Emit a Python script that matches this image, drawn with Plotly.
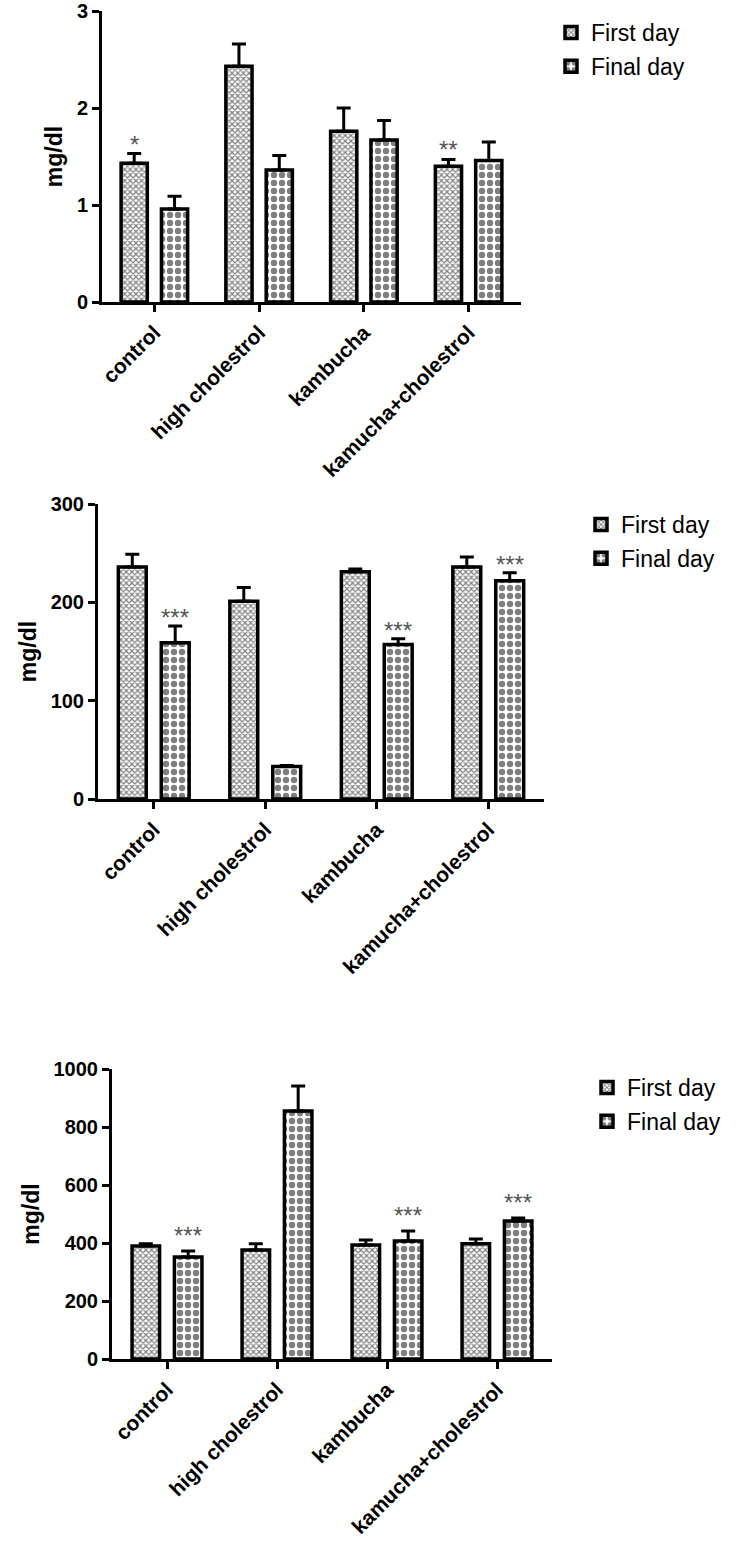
import plotly.graph_objects as go

groups = ["control", "high cholestrol", "kambucha", "kamucha+cholestrol"]

# top panel
p1_first = [1.43, 2.43, 1.76, 1.40]
p1_first_err = [0.10, 0.23, 0.24, 0.07]
p1_final = [0.96, 1.36, 1.67, 1.46]
p1_final_err = [0.13, 0.15, 0.20, 0.19]
p1_stars_first = ["*", "", "", "**"]
p1_stars_final = ["", "", "", ""]
p1_ticks = [0, 1, 2, 3]

# middle panel
p2_first = [236, 201, 231, 236]
p2_first_err = [13, 14, 3, 10]
p2_final = [159, 33, 157, 222]
p2_final_err = [17, 1, 6, 8]
p2_stars_first = ["", "", "", ""]
p2_stars_final = ["***", "", "***", "***"]
p2_ticks = [0, 100, 200, 300]

# bottom panel
p3_first = [390, 376, 393, 397]
p3_first_err = [7, 21, 17, 17]
p3_final = [352, 855, 407, 476]
p3_final_err = [20, 86, 34, 10]
p3_stars_first = ["", "", "", ""]
p3_stars_final = ["***", "", "***", "***"]
p3_ticks = [0, 200, 400, 600, 800, 1000]

FONT = "Arial, Liberation Sans, sans-serif"
W, H = 740, 1545
BARGAP = 0.23


def fx(px):
    return px / W


def fy(py):
    return 1 - py / H


first_pat = dict(shape="x", size=4, solidity=0.5, fgcolor="black", bgcolor="white")
final_pat = dict(shape=".", size=8, solidity=0.5, fgcolor="black", bgcolor="white")

panels = [
    # values, axes suffix, x px range, y px range (bottom, top), y max, legend pos, star shift
    (p1_first, p1_first_err, p1_final, p1_final_err, p1_stars_first, p1_stars_final,
     p1_ticks, "", (102, 521), (302, 11), 3, (551, 11), -6),
    (p2_first, p2_first_err, p2_final, p2_final_err, p2_stars_first, p2_stars_final,
     p2_ticks, "2", (98, 544), (799, 504), 300, (581, 503), -7),
    (p3_first, p3_first_err, p3_final, p3_final_err, p3_stars_first, p3_stars_final,
     p3_ticks, "3", (112, 552), (1359, 1069), 1000, (587, 1066), 0),
]

fig = go.Figure()
annotations = []

for (first, first_err, final, final_err, st_first, st_final,
     ticks, n, xpx, ypx, ymax, legpos, starshift) in panels:
    leg = "legend" + n
    xa = "x" + n
    ya = "y" + n
    for name, vals, errs, pat, grp in [("First day", first, first_err, first_pat, "a"),
                                       ("Final day", final, final_err, final_pat, "b")]:
        fig.add_trace(go.Bar(
            x=groups, y=vals, name=name, xaxis=xa, yaxis=ya, legend=leg,
            legendgroup=grp + n,
            marker=dict(color="white", pattern=pat, line=dict(color="black", width=3.5)),
            error_y=dict(type="data", array=errs, arrayminus=[0] * len(errs),
                         symmetric=False, color="black", thickness=3, width=7),
        ))
    off = (1 - BARGAP) / 4
    for stars, vals, errs, dx in [(st_first, first, first_err, -off),
                                  (st_final, final, final_err, off)]:
        for i, s in enumerate(stars):
            if s:
                annotations.append(dict(
                    x=i + dx, y=vals[i] + errs[i], xref=xa, yref=ya, text=s,
                    showarrow=False, yanchor="bottom", yshift=starshift,
                    font=dict(family=FONT, size=24, color="#555")))

    axis_x = dict(
        domain=[fx(xpx[0]), fx(xpx[1])], anchor=ya, type="category",
        range=[-0.5, 3.5], showline=True, linewidth=3, linecolor="black",
        ticks="outside", ticklen=7, tickwidth=2.5, tickcolor="black",
        tickangle=-45, showgrid=False, zeroline=False, automargin=False,
        ticklabeloverflow="allow",
        tickfont=dict(family=FONT, size=21, color="black", weight="bold"),
    )
    axis_y = dict(
        domain=[fy(ypx[0]), fy(ypx[1])], anchor=xa,
        range=[0, ymax], tickvals=ticks, showline=True, linewidth=3,
        linecolor="black", ticks="outside", ticklen=7, tickwidth=2.5,
        tickcolor="black", showgrid=False, zeroline=False, automargin=False,
        ticklabeloverflow="allow",
        tickfont=dict(family=FONT, size=20, color="black", weight="bold"),
        title=dict(text="mg/dl", standoff=8,
                   font=dict(family=FONT, size=23, color="black", weight="bold")),
    )
    fig.update_layout({"xaxis" + n: axis_x, "yaxis" + n: axis_y})
    fig.update_layout({leg: dict(
        x=fx(legpos[0]), y=fy(legpos[1]), xanchor="left", yanchor="top",
        font=dict(family=FONT, size=23, color="black"),
        bgcolor="rgba(0,0,0,0)", tracegroupgap=1, traceorder="grouped",
    )})

fig.update_layout(
    width=W, height=H,
    margin=dict(l=0, r=0, t=0, b=0),
    barmode="group", bargap=BARGAP, bargroupgap=0.35,
    plot_bgcolor="white", paper_bgcolor="white",
    font=dict(family=FONT, color="black"),
    annotations=annotations,
    showlegend=True,
)

# drop the page's default body margin so the figure sits at the window corner
fig.write_html("out.html", config={"displayModeBar": False},
               post_script="document.body.style.margin = '0';")
